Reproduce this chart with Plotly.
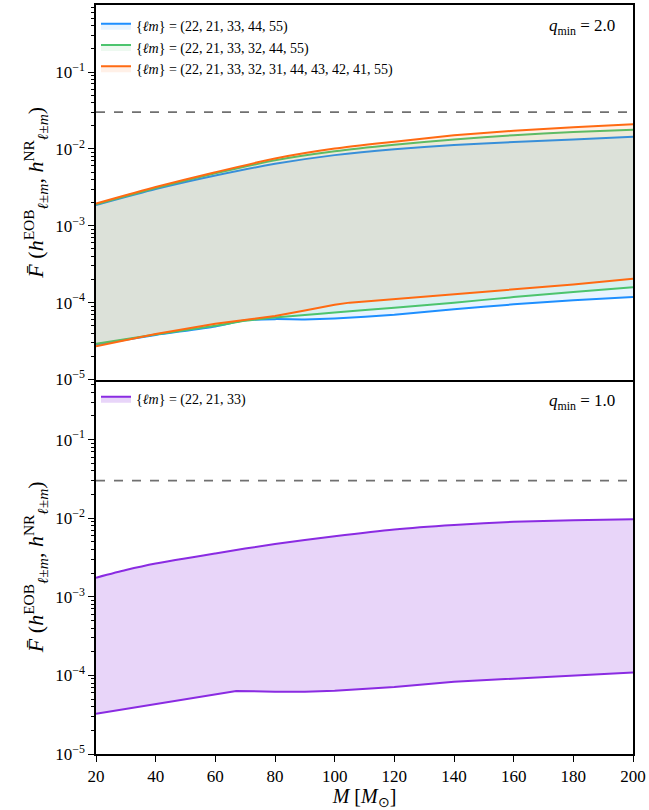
import plotly.graph_objects as go
from plotly.subplots import make_subplots

# ---------------- data ----------------
M_top_hi = [20, 40, 60, 80, 100, 120, 140, 160, 180, 200]
blue_hi = [1.86e-3, 3.0e-3, 4.5e-3, 6.4e-3, 8.3e-3, 9.9e-3, 1.12e-2, 1.23e-2, 1.33e-2, 1.44e-2]
green_hi = [1.9e-3, 3.1e-3, 4.8e-3, 7.1e-3, 9.3e-3, 1.13e-2, 1.33e-2, 1.51e-2, 1.66e-2, 1.78e-2]
orange_hi = [1.95e-3, 3.2e-3, 4.97e-3, 7.5e-3, 1.01e-2, 1.24e-2, 1.5e-2, 1.72e-2, 1.91e-2, 2.09e-2]

M_top_lo = [20, 40, 60, 70, 80, 90, 100, 120, 140, 160, 180, 200]
blue_lo = [2.85e-5, 3.8e-5, 4.9e-5, 5.9e-5, 6.1e-5, 6.05e-5, 6.2e-5, 6.95e-5, 8.2e-5, 9.5e-5, 1.07e-4, 1.18e-4]
green_lo = [2.92e-5, 3.85e-5, 5.0e-5, 5.8e-5, 6.4e-5, 6.9e-5, 7.45e-5, 8.6e-5, 1.0e-4, 1.18e-4, 1.38e-4, 1.59e-4]
M_orange_lo = [20, 40, 60, 80, 90, 100, 105, 120, 140, 160, 180, 200]
orange_lo = [2.7e-5, 3.9e-5, 5.3e-5, 6.7e-5, 7.9e-5, 9.4e-5, 1.0e-4, 1.11e-4, 1.28e-4, 1.48e-4, 1.72e-4, 2.05e-4]

M_bot_hi = [20, 30, 40, 60, 80, 100, 120, 140, 160, 180, 200]
purple_hi = [1.75e-3, 2.19e-3, 2.65e-3, 3.56e-3, 4.7e-3, 5.9e-3, 7.2e-3, 8.2e-3, 9.0e-3, 9.4e-3, 9.7e-3]
M_bot_lo = [20, 40, 60, 67, 80, 90, 100, 120, 140, 160, 180, 200]
purple_lo = [3.26e-5, 4.33e-5, 5.7e-5, 6.35e-5, 6.2e-5, 6.2e-5, 6.4e-5, 7.1e-5, 8.3e-5, 9.1e-5, 1.0e-4, 1.09e-4]

threshold_M = [20, 200]
threshold = [0.03, 0.03]

labels_top = ["{<i>ℓm</i>} = (22, 21, 33, 44, 55)",
              "{<i>ℓm</i>} = (22, 21, 33, 32, 44, 55)",
              "{<i>ℓm</i>} = (22, 21, 33, 32, 31, 44, 43, 42, 41, 55)"]
label_bot = "{<i>ℓm</i>} = (22, 21, 33)"

y_tickvals = [1e-5, 1e-4, 1e-3, 1e-2, 1e-1]
y_ticktext = ["10<sup>−5</sup>", "10<sup>−4</sup>", "10<sup>−3</sup>", "10<sup>−2</sup>", "10<sup>−1</sup>"]
x_tickvals = [20, 40, 60, 80, 100, 120, 140, 160, 180, 200]

minor_vals = [m * 10.0 ** e for e in range(-6, 0) for m in range(2, 10)]

BLUE = "#1E8FFF"
GREEN = "#4CC46E"
ORANGE = "#FF6A12"
PURPLE = "#8A2BE2"

def rgba(hexc, a):
    h = hexc.lstrip("#")
    return "rgba(%d,%d,%d,%.2f)" % (int(h[0:2], 16), int(h[2:4], 16), int(h[4:6], 16), a)

FONT = "Liberation Serif"

fig = make_subplots(rows=2, cols=1, shared_xaxes=True, vertical_spacing=0)

def band(xlo, ylo, xhi, yhi, color, name, legend, row, shape_lo="spline", alpha=0.1):
    fig.add_trace(go.Scatter(x=xlo, y=ylo, mode="lines",
                             line=dict(color=color, width=2, shape=shape_lo, smoothing=0.6),
                             showlegend=False, hoverinfo="skip"), row=row, col=1)
    fig.add_trace(go.Scatter(x=xhi, y=yhi, mode="lines",
                             line=dict(color=color, width=2, shape="spline", smoothing=0.6),
                             fill="tonexty", fillcolor=rgba(color, alpha),
                             name=name, legend=legend), row=row, col=1)

band(M_top_lo, blue_lo, M_top_hi, blue_hi, BLUE, labels_top[0], "legend", 1)
band(M_top_lo, green_lo, M_top_hi, green_hi, GREEN, labels_top[1], "legend", 1)
band(M_orange_lo, orange_lo, M_top_hi, orange_hi, ORANGE, labels_top[2], "legend", 1, shape_lo="linear")
band(M_bot_lo, purple_lo, M_bot_hi, purple_hi, PURPLE, label_bot, "legend2", 2, shape_lo="linear", alpha=0.2)

for r in (1, 2):
    fig.add_trace(go.Scatter(x=threshold_M, y=threshold, mode="lines",
                             line=dict(color="#707070", width=1.8, dash="dash"),
                             showlegend=False, hoverinfo="skip"), row=r, col=1)

yaxis_common = dict(type="log", tickvals=y_tickvals, ticktext=y_ticktext,
                    ticks="outside", ticklen=6, tickwidth=1.2, tickcolor="black",
                    showline=True, mirror=True, linecolor="black", linewidth=1.5,
                    showgrid=False, zeroline=False,
                    tickfont=dict(family=FONT, size=17, color="black"),
                    minor=dict(tickvals=minor_vals, ticks="outside", ticklen=3,
                               tickwidth=1, tickcolor="black", showgrid=False),
                    title=dict(text="<i>F̄</i> (<i>h</i><sup>EOB</sup><sub><i>ℓ</i>±<i>m</i></sub>, "
                                    "<i>h</i><sup>NR</sup><sub><i>ℓ</i>±<i>m</i></sub>)",
                               font=dict(family=FONT, size=22, color="black"), standoff=5))

fig.update_yaxes(range=[-5, -0.128], row=1, col=1, **yaxis_common)
fig.update_yaxes(range=[-5, -0.236], row=2, col=1, **yaxis_common)

fig.update_xaxes(range=[20, 200], tickvals=x_tickvals, showline=True,
                 linecolor="black", linewidth=1.5, showgrid=False, zeroline=False,
                 tickfont=dict(family=FONT, size=17, color="black"))
fig.update_xaxes(ticks="", showticklabels=False, mirror=True, row=1, col=1)
fig.update_xaxes(ticks="outside", ticklen=6, tickwidth=1.2, tickcolor="black", mirror=False,
                 title=dict(text="<i>M</i> [<i>M</i><sub>⊙</sub>]",
                            font=dict(family=FONT, size=20, color="black"), standoff=7),
                 row=2, col=1)

fig.add_annotation(xref="x domain", yref="y domain", x=0.97, y=0.975, xanchor="right", yanchor="top",
                   text="<i>q</i><sub>min</sub> = 2.0", showarrow=False,
                   font=dict(family=FONT, size=17, color="black"))
fig.add_annotation(xref="x2 domain", yref="y2 domain", x=0.97, y=0.975, xanchor="right", yanchor="top",
                   text="<i>q</i><sub>min</sub> = 1.0", showarrow=False,
                   font=dict(family=FONT, size=17, color="black"))

legend_common = dict(bgcolor="rgba(255,255,255,0)", borderwidth=0,
                     font=dict(family=FONT, size=14, color="black"),
                     xanchor="left", yanchor="top", tracegroupgap=0, itemwidth=30,
                     traceorder="normal")
fig.update_layout(
    width=649, height=810,
    margin=dict(l=96, r=16, t=3, b=54),
    paper_bgcolor="white", plot_bgcolor="white",
    legend=dict(x=0.0, y=0.993, yref="paper", **legend_common),
    legend2=dict(x=0.0, y=0.495, yref="paper", **legend_common),
    showlegend=True,
)

fig.write_html("out.html")
